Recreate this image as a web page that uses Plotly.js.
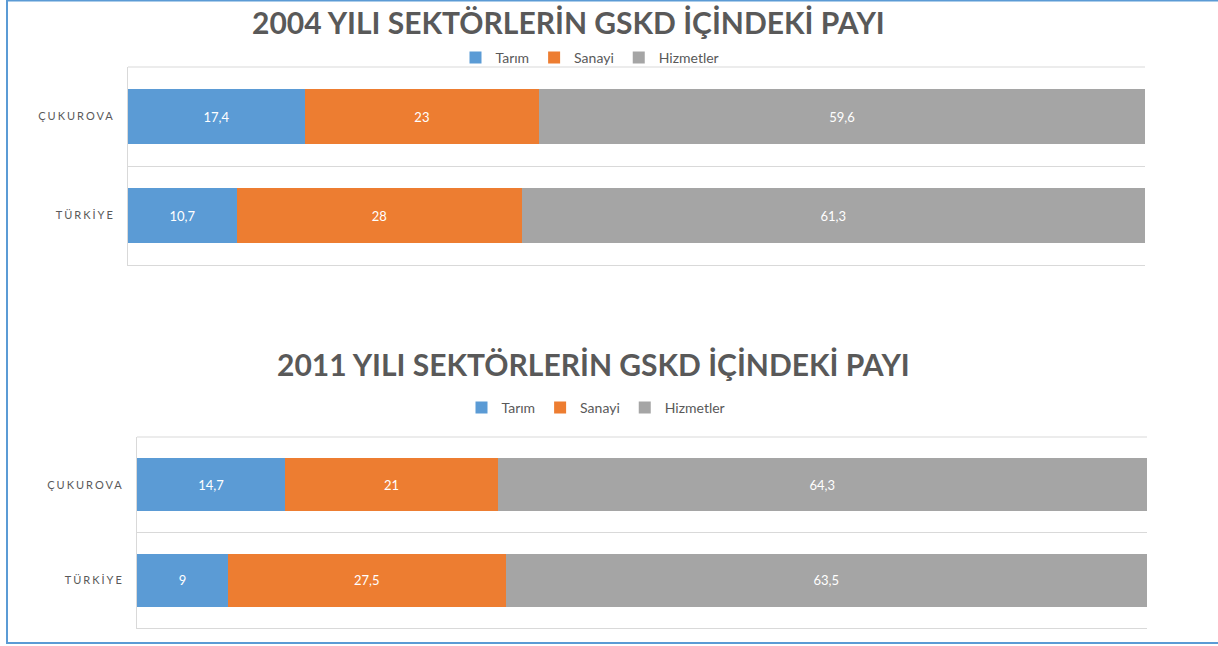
<!DOCTYPE html>
<html><head><meta charset="utf-8">
<script src="https://cdn.plot.ly/plotly-3.0.1.min.js"></script>
<style>
body{margin:0;background:#fff}
.ytick text,.y2tick text{letter-spacing:2px}
</style>
</head><body><div id="chart" style="width:1218px;height:646px"></div>
<script>
const regions = ['ÇUKUROVA', 'TÜRKİYE'];
const sectors = ['Tarım', 'Sanayi', 'Hizmetler'];
const colors = ['#5B9BD5', '#ED7D31', '#A5A5A5'];
const tarim2004 = [17.4, 10.7];
const sanayi2004 = [23, 28];
const hizmet2004 = [59.6, 61.3];
const tarim2011 = [14.7, 9];
const sanayi2011 = [21, 27.5];
const hizmet2011 = [64.3, 63.5];
const title2004 = '2004 YILI SEKTÖRLERİN GSKD İÇİNDEKİ PAYI';
const title2011 = '2011 YILI SEKTÖRLERİN GSKD İÇİNDEKİ PAYI';

const fmt = arr => arr.map(v => String(v).replace('.', ','));
const FONT = 'Lato, "Open Sans", sans-serif';

function mk(vals, i, xa, ya, leg) {
  return {
    type: 'bar', orientation: 'h',
    x: vals, y: regions, name: sectors[i],
    xaxis: xa, yaxis: ya, legend: leg,
    marker: {color: colors[i], line: {width: 0}},
    text: fmt(vals), textposition: 'inside', insidetextanchor: 'middle',
    textfont: {color: '#FFFFFF', size: 13, family: FONT},
    hoverinfo: 'x+name'
  };
}

const data = [
  mk(tarim2004, 0, 'x', 'y', 'legend'),
  mk(sanayi2004, 1, 'x', 'y', 'legend'),
  mk(hizmet2004, 2, 'x', 'y', 'legend'),
  mk(tarim2011, 0, 'x2', 'y2', 'legend2'),
  mk(sanayi2011, 1, 'x2', 'y2', 'legend2'),
  mk(hizmet2011, 2, 'x2', 'y2', 'legend2')
];

const xax = (d, anchor) => ({domain: d, range: [0, 100], showgrid: false, zeroline: false,
  anchor: anchor, showticklabels: false, showline: true, linecolor: '#D9D9D9',
  linewidth: 1, ticks: '', fixedrange: true});
const yax = (d, anchor) => ({domain: d, type: 'category', autorange: 'reversed',
  anchor: anchor, tickson: 'boundaries', showgrid: true, gridcolor: '#D9D9D9', gridwidth: 1,
  showline: true, linecolor: '#D9D9D9', ticks: '', ticklabelstandoff: 10,
  tickfont: {family: FONT, size: 11, color: '#595959'}, fixedrange: true});

const legendCfg = (x, y) => ({orientation: 'h', x: x, y: y, xanchor: 'center', yanchor: 'middle',
  traceorder: 'normal',
  font: {family: FONT, size: 14, color: '#595959'}, bgcolor: 'rgba(0,0,0,0)',
  itemwidth: 30, tracegroupgap: 0, itemclick: false});

const topLine = (xa, ya) => ({type: 'line', xref: xa + ' domain', yref: ya + ' domain',
  x0: 0, x1: 1, y0: 1, y1: 1, line: {color: '#D9D9D9', width: 1}, layer: 'below'});

const layout = {
  width: 1218, height: 646,
  margin: {l: 0, r: 0, t: 0, b: 0},
  paper_bgcolor: '#FFFFFF', plot_bgcolor: 'rgba(0,0,0,0)',
  barmode: 'stack', bargap: 0.45,
  font: {family: FONT, color: '#595959'},
  xaxis: xax([128/1218, 1145/1218], 'y'),
  yaxis: yax([1 - 265/646, 1 - 67/646], 'x'),
  xaxis2: xax([137/1218, 1147/1218], 'y2'),
  yaxis2: yax([1 - 628/646, 1 - 437/646], 'x2'),
  showlegend: true,
  legend: legendCfg(590/1218, 1 - 58/646),
  legend2: legendCfg(596/1218, 1 - 408/646),
  annotations: [
    {text: '<b>' + title2004 + '</b>', xref: 'paper', yref: 'paper', x: 568/1218, y: 1 - 22/646,
     xanchor: 'center', yanchor: 'middle', showarrow: false,
     font: {family: FONT, size: 30, color: '#595959'}},
    {text: '<b>' + title2011 + '</b>', xref: 'paper', yref: 'paper', x: 593/1218, y: 1 - 364/646,
     xanchor: 'center', yanchor: 'middle', showarrow: false,
     font: {family: FONT, size: 30, color: '#595959'}}
  ],
  shapes: [
    topLine('x', 'y'),
    topLine('x2', 'y2'),
    {type: 'rect', xref: 'paper', yref: 'paper', x0: 7/1218, x1: 1.05, y0: 1 - 643/646, y1: 1 - 0.5/646,
     line: {color: '#5B9BD5', width: 2}, fillcolor: 'rgba(0,0,0,0)', layer: 'above'}
  ]
};

Plotly.newPlot('chart', data, layout, {displayModeBar: false, staticPlot: true});
</script></body></html>
